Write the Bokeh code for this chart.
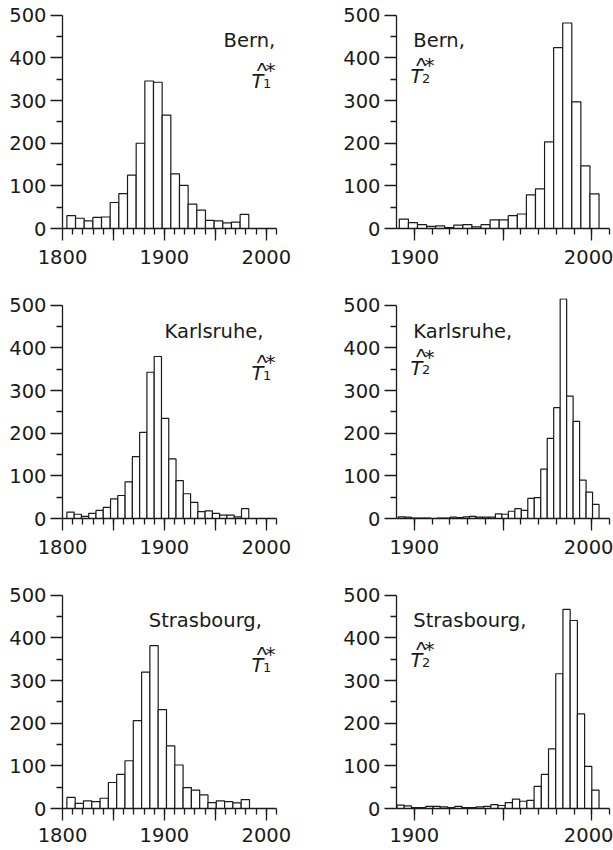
from bokeh.plotting import figure
from bokeh.layouts import column, row
from bokeh.models import Range1d, FixedTicker, Label
from bokeh.embed import file_html
from bokeh.resources import INLINE
import numpy as np

# ---------------- data (counts per histogram bin) ----------------
bern_t1 = [30, 24, 18, 26, 27, 61, 82, 125, 200, 346, 343, 266, 128, 101, 57, 43, 19, 18, 13, 15, 33]
bern_t2 = [22, 14, 9, 5, 6, 2, 8, 9, 4, 9, 20, 20, 30, 34, 79, 93, 203, 424, 482, 297, 147, 81]
karlsruhe_t1 = [15, 10, 5, 12, 19, 26, 46, 54, 86, 145, 202, 343, 380, 235, 140, 89, 58, 38,
                16, 18, 12, 8, 8, 4, 23]
karlsruhe_t2 = [4, 3, 1, 1, 1, 0, 1, 1, 3, 2, 4, 5, 3, 3, 3, 11, 10, 17, 23, 19, 47, 49, 116,
                188, 260, 515, 287, 228, 90, 62, 33]
strasbourg_t1 = [26, 12, 18, 16, 24, 61, 80, 112, 206, 320, 382, 232, 147, 102, 49, 43, 32, 14,
                 18, 16, 13, 21]
strasbourg_t2 = [8, 6, 2, 2, 5, 5, 4, 2, 5, 2, 2, 4, 5, 9, 7, 14, 22, 17, 19, 52, 80, 140, 316,
                 467, 441, 222, 99, 43]

# data range covered by the bins (first left edge, last right edge)
bern_t1_span = (1804.3, 1982.8)
bern_t2_span = (1891.6, 2004.1)
karlsruhe_t1_span = (1804.3, 1982.8)
karlsruhe_t2_span = (1891.0, 2004.1)
strasbourg_t1_span = (1804.3, 1983.5)
strasbourg_t2_span = (1890.3, 2004.1)

stations = ["Bern,", "Karlsruhe,", "Strasbourg,"]

t1_axis = (1800, 2010)
t1_major = [1800, 1850, 1900, 1950, 2000]
t1_minor = list(range(1810, 2011, 10))
t2_axis = (1890, 2010)
t2_major = [1900, 1950, 2000]
t2_minor = list(range(1900, 2011, 10))
unlabeled = {1850: "", 1950: ""}
y_major = [0, 100, 200, 300, 400, 500]
y_minor = [50, 150, 250, 350, 450]

# ---------------- styling ----------------
FONT = "DejaVu Sans"
FS = "19.5px"
INK = "#1a1a1a"
FRAME_H = 220
Y_TOP = 516


def make_panel(counts, span, axis, majors, minors, frame_w, bl, br, bt, bb, standoff):
    p = figure(x_range=Range1d(*axis), y_range=Range1d(0, Y_TOP),
               frame_width=frame_w, frame_height=FRAME_H,
               min_border_left=bl, min_border_right=br,
               min_border_top=bt, min_border_bottom=bb,
               output_backend="svg", toolbar_location=None)
    p.outline_line_color = None
    p.grid.visible = False
    p.background_fill_color = "white"
    p.border_fill_color = "white"

    edges = np.linspace(span[0], span[1], len(counts) + 1)
    p.quad(left=edges[:-1], right=edges[1:], bottom=0, top=counts,
           fill_color="white", line_color=INK, line_width=1.2)

    xa = p.xaxis[0]
    xa.ticker = FixedTicker(ticks=majors, minor_ticks=minors)
    xa.major_label_overrides = unlabeled
    xa.bounds = axis
    ya = p.yaxis[0]
    ya.ticker = FixedTicker(ticks=y_major, minor_ticks=y_minor)
    ya.bounds = (0, 500)
    for ax in (xa, ya):
        ax.axis_line_color = INK
        ax.axis_line_width = 1.3
        ax.major_tick_line_color = INK
        ax.major_tick_line_width = 1.3
        ax.minor_tick_line_color = INK
        ax.minor_tick_line_width = 1.3
        ax.major_tick_out = 12
        ax.major_tick_in = 0
        ax.minor_tick_out = 6
        ax.minor_tick_in = 0
        ax.major_label_text_font = FONT
        ax.major_label_text_font_size = FS
        ax.major_label_text_color = INK
    xa.major_label_standoff = standoff
    ya.major_label_standoff = 4
    return p


def add_title(p, name, sub, x0, align, name_dx, name_dy, t_dx, t_dy):
    common = dict(x=x0, y=0, text_color=INK, text_baseline="alphabetic")
    p.add_layout(Label(text=name, x_offset=name_dx, y_offset=name_dy, text_align=align,
                       text_font=FONT, text_font_size=FS, **common))
    p.add_layout(Label(text="T", x_offset=t_dx, y_offset=t_dy, text_align="left",
                       text_font=FONT, text_font_size=FS, text_font_style="italic", **common))
    p.add_layout(Label(text="^", x_offset=t_dx + 10.5, y_offset=t_dy + 11.5, text_align="center",
                       text_font="Liberation Sans", text_font_size="22px", **common))
    p.add_layout(Label(text=sub, x_offset=t_dx + 11.5, y_offset=t_dy - 1.5, text_align="left",
                       text_font=FONT, text_font_size="13px", **common))
    p.add_layout(Label(text="*", x_offset=t_dx + 14, y_offset=t_dy + 11.5, text_align="left",
                       text_font=FONT, text_font_size="20px", **common))


LW, RW = 214, 213
left_b = dict(bl=62, br=60)
right_b = dict(bl=60, br=4)
rows_b = [dict(bt=8, bb=44, standoff=9), dict(bt=26, bb=44, standoff=9),
          dict(bt=26, bb=42, standoff=7)]

t1_data = [bern_t1, karlsruhe_t1, strasbourg_t1]
t1_spans = [bern_t1_span, karlsruhe_t1_span, strasbourg_t1_span]
t2_data = [bern_t2, karlsruhe_t2, strasbourg_t2]
t2_spans = [bern_t2_span, karlsruhe_t2_span, strasbourg_t2_span]

name_dx_left = [212.7, 201.0, 199.4]
name_dy = [187.6, 187.0, 187.7]
t_dy_left = [146.6, 145.0, 142.7]
t_dy_right = [151.6, 150.4, 147.7]

rows = []
for i in range(3):
    pl = make_panel(t1_data[i], t1_spans[i], t1_axis, t1_major, t1_minor, LW,
                    **left_b, **rows_b[i])
    add_title(pl, stations[i], "1", t1_axis[0], "right", name_dx_left[i], name_dy[i],
              189.0, t_dy_left[i])
    pr = make_panel(t2_data[i], t2_spans[i], t2_axis, t2_major, t2_minor, RW,
                    **right_b, **rows_b[i])
    add_title(pr, stations[i], "2", t2_axis[0], "left", 16.8, name_dy[i],
              14.1, t_dy_right[i])
    rows.append(row(pl, pr))

layout = column(*rows)
open("out.html", "w").write(file_html(layout, INLINE))
